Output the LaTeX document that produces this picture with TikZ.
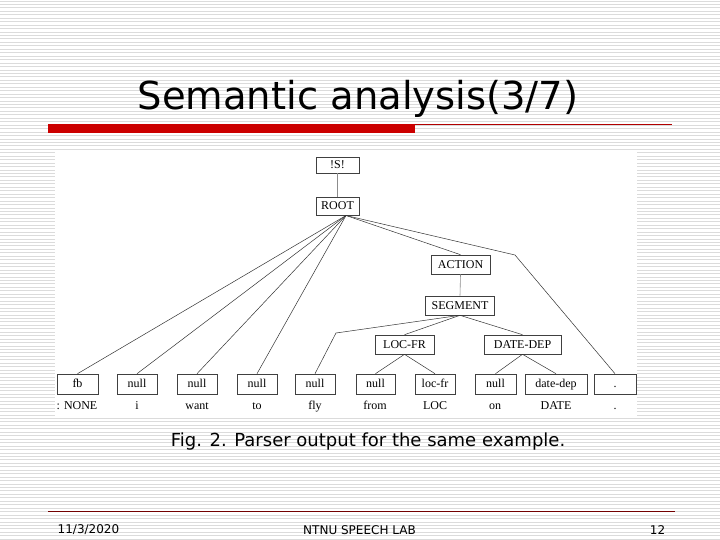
\documentclass[tikz,border=0pt]{standalone}
\usepackage{fontspec}
\setmainfont{Liberation Serif}
\newfontfamily\tahoma{DejaVu Sans}
\begin{document}
\begin{tikzpicture}[x=1pt,y=-1pt,
  box/.style={draw=black!75, line width=0.6pt, minimum height=19pt, inner sep=0pt, text height=7.5pt, text depth=0pt, font=\fontsize{12}{12}\selectfont},
  edge/.style={draw=black!80, line width=0.5pt},
  gedge/.style={draw=black!45, line width=0.6pt},
  lbl/.style={inner sep=0pt, text height=7.5pt, text depth=0pt, font=\fontsize{12}{12}\selectfont},
  foot/.style={inner sep=0pt, font=\tahoma\fontsize{12}{12}\selectfont}]
\useasboundingbox (0,0) rectangle (720,540);
\fill[white] (0,0) rectangle (720,540);
\foreach \i in {0,...,156} \draw[black!14, line width=0.9pt] (0,\i*3.45+1) -- (720,\i*3.45+1);
\fill[white] (55,150) rectangle (637,418);

% title
\node[font=\tahoma\fontsize{38.5}{38.5}\selectfont, anchor=base, inner sep=0pt] (title) at (358,110) {Semantic analysis(3/7)};
\fill[red!80!black] (48,124) rectangle (415,133);
\draw[red!70!black, line width=0.7pt] (415,124.5) -- (672,124.5);

% upper nodes
\node[box, minimum width=43pt, minimum height=16pt] (s) at (337.5,165) {!S!};
\node[box, minimum width=43pt, minimum height=18pt] (root) at (337.5,206) {ROOT};
\node[box, minimum width=59pt] (action) at (460.5,264.5) {ACTION};
\node[box, minimum width=69pt] (segment) at (460,305.5) {SEGMENT};
\node[box, minimum width=59pt] (locfr) at (404.5,344.5) {LOC-FR};
\node[box, minimum width=77pt] (datedep) at (522.5,344.5) {DATE-DEP};

% leaf nodes
\node[box, minimum width=41pt, minimum height=20pt] (fb) at (77.5,384) {fb};
\node[box, minimum width=40pt, minimum height=20pt] (ni) at (137,384) {null};
\node[box, minimum width=40pt, minimum height=20pt] (nwant) at (197,384) {null};
\node[box, minimum width=40pt, minimum height=20pt] (nto) at (257,384) {null};
\node[box, minimum width=40pt, minimum height=20pt] (nfly) at (315,384) {null};
\node[box, minimum width=39pt, minimum height=20pt] (nfrom) at (375.5,384) {null};
\node[box, minimum width=40pt, minimum height=20pt] (lfr) at (435,384) {loc-fr};
\node[box, minimum width=41pt, minimum height=20pt] (non) at (495.5,384) {null};
\node[box, minimum width=62pt, minimum height=20pt] (ddep) at (556,384) {date-dep};
\node[box, minimum width=42pt, minimum height=20pt] (dot) at (615,384) {.};

% word labels
\node[lbl] (w1) at (77,406) {: NONE};
\node[lbl] (w2) at (137,406) {i};
\node[lbl] (w3) at (197,406) {want};
\node[lbl] (w4) at (257,406) {to};
\node[lbl] (w5) at (315,406) {fly};
\node[lbl] (w6) at (375,406) {from};
\node[lbl] (w7) at (435,406) {LOC};
\node[lbl] (w8) at (495,406) {on};
\node[lbl] (w9) at (556,406) {DATE};
\node[lbl] (w10) at (615,406) {.};

% connectors
\coordinate (rc) at (346,215.5);
\coordinate (b1) at (515,255);
\coordinate (b2) at (336,333);
\draw[gedge] (s.south) -- (root.north);
\draw[gedge] (action.south) -- (segment.north);
\draw[edge] (rc) -- (fb.north);
\draw[edge] (rc) -- (ni.north);
\draw[edge] (rc) -- (nwant.north);
\draw[edge] (rc) -- (nto.north);
\draw[edge] (rc) -- (action.north);
\draw[edge] (rc) -- (b1) -- (dot.north);
\draw[edge] (segment.south) -- (b2) -- (nfly.north);
\draw[edge] (segment.south) -- (locfr.north);
\draw[edge] (segment.south) -- (datedep.north);
\draw[edge] (locfr.south) -- (nfrom.north);
\draw[edge] (locfr.south) -- (lfr.north);
\draw[edge] (datedep.south) -- (non.north);
\draw[edge] (datedep.south) -- (ddep.north);

% caption
\node[font=\tahoma\fontsize{18}{18}\selectfont, inner sep=0pt] (cap) at (368,442) {Fig. 2. Parser output for the same example.};

% footer
\draw[red!45!black, line width=0.6pt] (48,511) -- (675,511);
\node[foot] (date) at (88.5,530) {11/3/2020};
\node[foot] (lab) at (359.5,530) {NTNU SPEECH LAB};
\node[foot] (page) at (657.5,530) {12};
\end{tikzpicture}
\end{document}
